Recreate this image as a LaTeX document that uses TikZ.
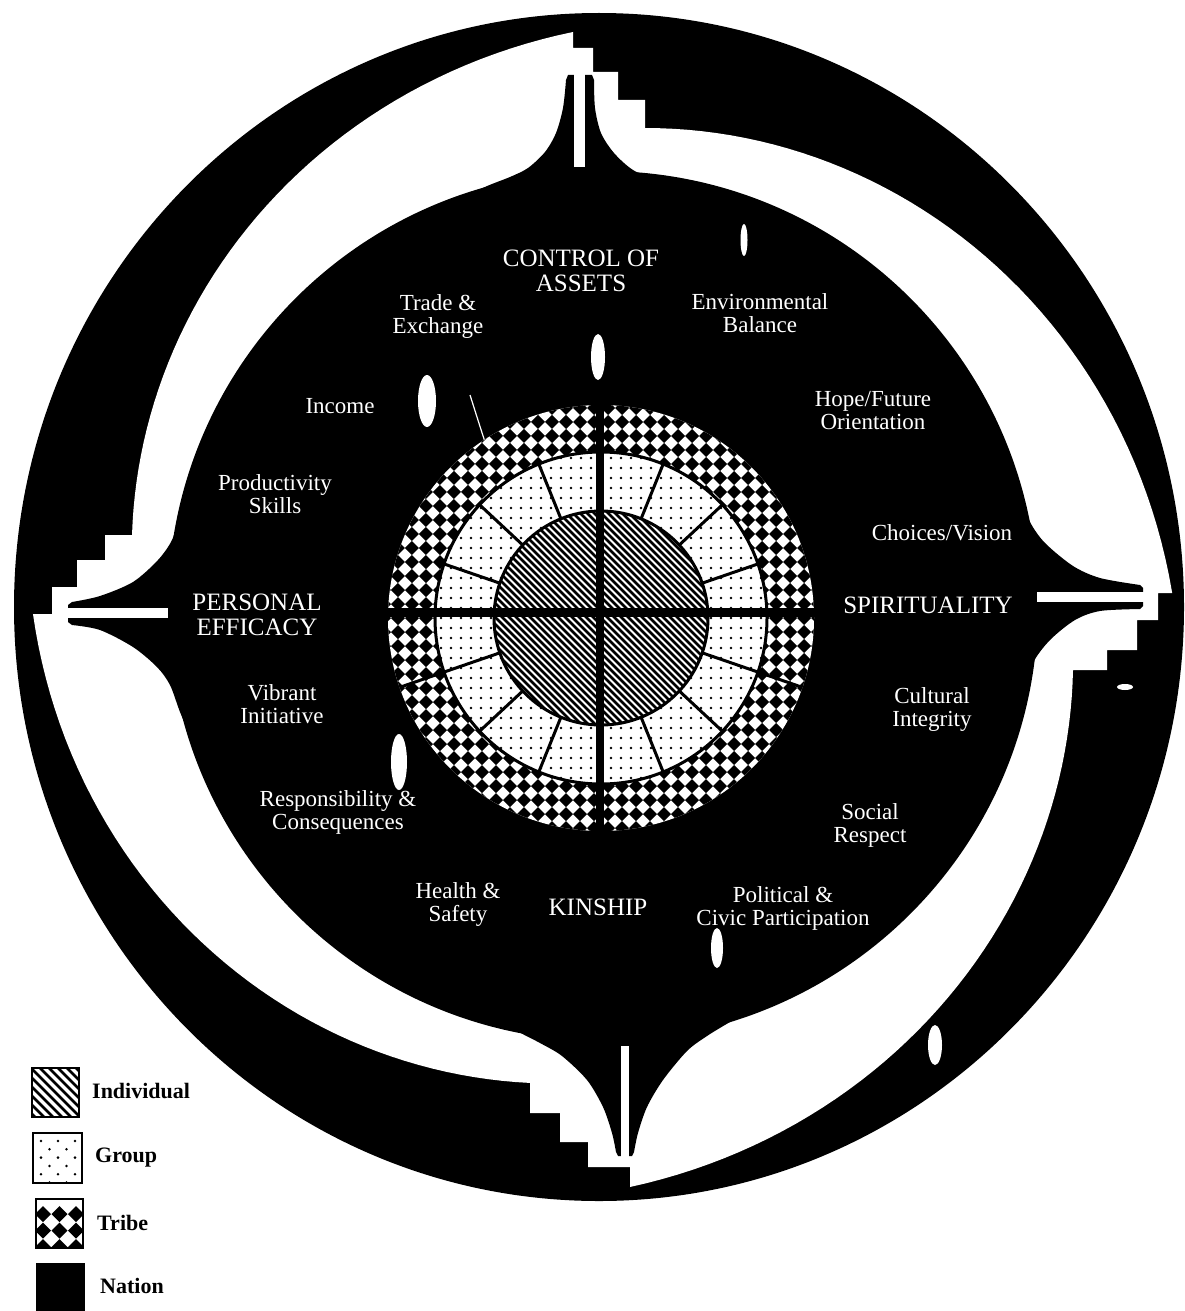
\documentclass[tikz,border=0pt]{standalone}
\usepackage{fontspec}
\setmainfont{Liberation Serif}
\pgfmathdeclarefunction{ringr}{5}{%
  \begingroup
  \pgfmathparse{(#1-(#2))/((#3)-(#2))}\let\myu\pgfmathresult
  \pgfmathparse{#4+(#5-#4)*(0.75*\myu+0.25*\myu*\myu)}%
  \pgfmathsmuggle\pgfmathresult
  \endgroup}
\begin{document}
\begin{tikzpicture}[x=1pt,y=-1pt,
  lab/.style={text=white,font=\fontsize{23}{23}\selectfont,align=center,inner sep=0pt},
  bigcap/.style={text=white,font=\fontsize{25}{25}\selectfont,align=center,inner sep=0pt},
  leg/.style={anchor=west,font=\bfseries\fontsize{22}{22}\selectfont,inner sep=0pt},
  blob/.style={fill=white},
  divline/.style={line width=3pt,black}]
\useasboundingbox (0,0) rectangle (1184,1311);
\fill[white] (0,0) rectangle (1184,1311);
% ---- outer nation ring
\fill[black] (599,607) ellipse [x radius=585pt, y radius=594pt];
% ---- white band (inner edge of ring with four staircases)
\fill[white] (645,128)
 -- plot[domain=-84.15:-1.39,samples=50,variable=\t]
   ({596+ringr(\t,-84.15,-1.39,480.5,576.2)*cos(\t)},{606+ringr(\t,-84.15,-1.39,480.5,576.2)*sin(\t)})
 -- (1172,593) -- (1158,593) -- (1158,620) -- (1137,620) -- (1137,650) -- (1107,650) -- (1107,670) -- (1073,670)
 -- plot[domain=7.64:86.65,samples=50,variable=\t]
   ({596+ringr(\t,7.64,86.65,481.3,582)*cos(\t)},{606+ringr(\t,7.64,86.65,481.3,582)*sin(\t)})
 -- (630,1187) -- (630,1167) -- (588,1167) -- (588,1142) -- (560,1142) -- (560,1113) -- (530,1113) -- (530,1083)
 -- plot[domain=97.88:179.19,samples=50,variable=\t]
   ({596+ringr(\t,97.88,179.19,481.5,563.1)*cos(\t)},{606+ringr(\t,97.88,179.19,481.5,563.1)*sin(\t)})
 -- (33,614) -- (52,614) -- (52,587) -- (77,587) -- (77,560) -- (105,560) -- (105,535) -- (132,535)
 -- plot[domain=188.7:267.71,samples=50,variable=\t]
   ({596+ringr(\t,188.7,267.71,469.4,574.5)*cos(\t)},{606+ringr(\t,188.7,267.71,469.4,574.5)*sin(\t)})
 -- (573,32) -- (573,48) -- (593,48) -- (593,72) -- (618,72) -- (618,100) -- (645,100) -- cycle;
% ---- inner dark disc
\fill[black] (603,606) circle[radius=435pt];
% top spike
\fill[black] plot[smooth] coordinates {(450,205)(485,187)(510,177)(528,168)(545,152)(556,133)(563,108)(566,80)}
  -- (568,75) -- (592,75) -- (594,80)
  -- plot[smooth] coordinates {(594,80)(595,108)(601,133)(614,153)(633,170)(660,182)(700,200)}
  -- (600,400) -- cycle;
\fill[white] (573.5,60) rectangle (585,167);
% right spike
\fill[black] plot[smooth] coordinates {(1008,465)(1020,495)(1030,522)(1045,543)(1073,566)(1100,578)(1140,585)}
  -- (1143,588) -- (1143,606) -- (1140,609)
  -- plot[smooth] coordinates {(1140,609)(1100,611)(1075,620)(1050,640)(1033,663)(1024,695)(1015,725)}
  -- (900,600) -- cycle;
\fill[white] (1037,592) rectangle (1150,601.5);
% bottom spike
\fill[black] plot[smooth] coordinates {(490,1015)(515,1030)(540,1043)(562,1056)(587,1080)(603,1107)(612,1133)(616,1152)}
  -- (618,1156) -- (632,1156) -- (634,1152)
  -- plot[smooth] coordinates {(634,1152)(638,1133)(647,1107)(663,1080)(687,1051)(707,1036)(730,1022)(755,1008)}
  -- (620,800) -- cycle;
\fill[white] (621,1046) rectangle (628.5,1165);
% left spike
\fill[black] plot[smooth] coordinates {(190,490)(180,515)(172,540)(158,560)(133,582)(100,596)(72,602)}
  -- (68,605) -- (68,622) -- (72,625)
  -- plot[smooth] coordinates {(72,625)(100,630)(133,647)(157,667)(170,685)(180,712)(192,740)}
  -- (300,610) -- cycle;
\fill[white] (58,608) rectangle (168,618);
% ---- blobs / scratches
\fill[blob] (598,357) ellipse [x radius=7pt, y radius=23pt];
\fill[blob] (427,401) ellipse [x radius=9pt, y radius=26pt];
\fill[blob] (399,762) ellipse [x radius=8pt, y radius=28pt];
\fill[blob] (717,948) ellipse [x radius=6pt, y radius=20pt];
\fill[blob] (935,1045) ellipse [x radius=7pt, y radius=20pt];
\fill[blob] (744,240) ellipse [x radius=3.5pt, y radius=16pt];
\fill[blob] (1125,687) ellipse [x radius=8pt, y radius=3pt];
\draw[white,line width=1.2pt] (470,395) .. controls (478,420) and (484,440) .. (494,468);
% ---- central pattern: tribe (checker)
\fill[white] (601,618) circle[radius=213pt];
\begin{scope}
\clip (601,618) circle[radius=213pt];
\begin{scope}[shift={(601,618)},rotate=45]
\foreach \i in {-22,...,21}{\foreach \j in {-11,...,10}{
  \fill[black] ({\i*9.9},{(2*\j+mod(\i+100,2))*9.9}) rectangle ++(9.9,9.9);}}
\end{scope}
\end{scope}
% group (dots)
\fill[white] (601,618) circle[radius=166pt];
\begin{scope}
\clip (601,618) circle[radius=166pt];
\foreach \i in {-17,...,17}{\foreach \j in {-17,...,17}{
  \fill[black] ({601+\i*10},{618+\j*10}) circle[radius=1.3pt];}}
\end{scope}
% individual (hatch)
\fill[white] (601,618) circle[radius=107pt];
\begin{scope}
\clip (601,618) circle[radius=107pt];
\foreach \k in {-35,...,35}{\draw[black,line width=2.6pt] ({601+\k*7-120},{618-120}) -- ++(240,240);}
\end{scope}
\draw[divline] (601,618) circle[radius=107pt];
\draw[divline] (601,618) circle[radius=166pt];
\foreach \a in {43,68,112,137,199,223,248,292,317,341}{
  \draw[divline] ({601+107*cos(\a)},{618+107*sin(\a)}) -- ({601+166*cos(\a)},{618+166*sin(\a)});}
\foreach \a in {19,161}{
  \draw[divline] ({601+107*cos(\a)},{618+107*sin(\a)}) -- ({601+213*cos(\a)},{618+213*sin(\a)});}
\fill[black] (596,404) rectangle (604,833);
\fill[black] (388,607.5) rectangle (814,616.5);
% ---- labels
\node[bigcap] (ctrl) at (581,271) {CONTROL OF\\ASSETS};
\node[lab] (trade) at (438,316) {Trade \&\\Exchange};
\node[lab] (env) at (760,313) {Environmental\\Balance};
\node[lab] (inc) at (340,406) {Income};
\node[lab] (hope) at (873,411) {Hope/Future\\Orientation};
\node[lab] (prod) at (275,494) {Productivity\\Skills};
\node[lab] (choi) at (942,533) {Choices/Vision};
\node[bigcap] (pers) at (257,615) {PERSONAL\\EFFICACY};
\node[bigcap] (spir) at (928,605) {SPIRITUALITY};
\node[lab] (vib) at (282,704) {Vibrant\\Initiative};
\node[lab] (cult) at (932,709) {Cultural\\Integrity};
\node[lab] (resp) at (338,812) {Responsibility \&\\Consequences};
\node[lab] (soc) at (870,825) {Social\\Respect};
\node[lab] (hea) at (458,904) {Health \&\\Safety};
\node[bigcap] (kin) at (598,907) {KINSHIP};
\node[lab] (pol) at (783,908) {Political \&\\Civic Participation};
% ---- legend
\begin{scope}
\clip (32,1068) rectangle (79,1117);
\foreach \k in {-8,...,8}{\draw[black,line width=2.6pt] ({55+\k*9-40},{1092-40}) -- ++(80,80);}
\end{scope}
\draw[black,line width=2pt] (32,1068) rectangle (79,1117);
\node[leg] (lind) at (92,1091) {Individual};
\foreach \r in {0,2,4}{\foreach \c in {0,1,2}{
  \fill[black] ({41+\c*17},{1141+\r*8.3}) circle[radius=1.4pt];}}
\foreach \r in {1,3,5}{\foreach \c in {0,1}{
  \fill[black] ({49.5+\c*17},{1141+\r*8.3}) circle[radius=1.4pt];}}
\draw[black,line width=2pt] (33,1133) rectangle (82,1183);
\node[leg] (lgrp) at (95,1158) {Group};
\begin{scope}
\clip (36,1199) rectangle (83,1248);
\foreach \r in {0,...,3}{\foreach \c in {0,...,3}{
  \fill[black] ({43+\c*16.5},{1206+\r*16.5}) -- ++(8,8) -- ++(-8,8) -- ++(-8,-8) -- cycle;}}
\end{scope}
\draw[black,line width=2pt] (36,1199) rectangle (83,1248);
\node[leg] (ltri) at (97,1223) {Tribe};
\fill[black] (36,1263) rectangle (85,1311);
\node[leg] (lnat) at (100,1286) {Nation};
\end{tikzpicture}
\end{document}
